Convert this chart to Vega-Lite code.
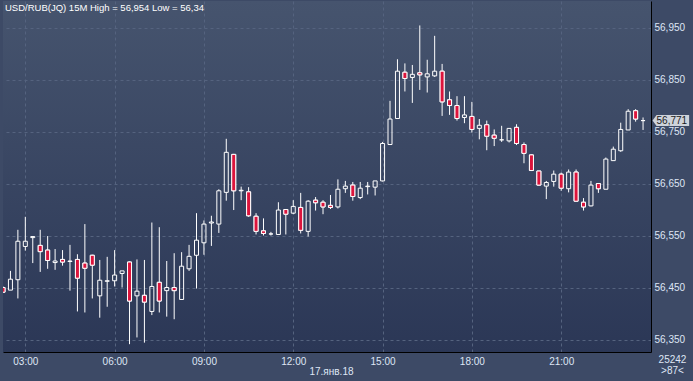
{
  "$schema": "https://vega.github.io/schema/vega-lite/v6.json",
  "width": 648,
  "height": 351,
  "autosize": {"type": "none"},
  "padding": {"left": 3, "top": 1, "right": 42, "bottom": 29},
  "background": "#3d4a66",
  "config": {
    "locale": {"number": {"decimal": ",", "thousands": " ", "grouping": [3], "currency": ["", ""]}},
    "view": {"stroke": null, "fill": {"gradient": "linear", "x1": 0, "y1": 0, "x2": 0, "y2": 1, "stops": [{"offset": 0, "color": "#46546e"}, {"offset": 1, "color": "#2b3756"}]}},
    "font": "Liberation Sans"
  },
  "data": {"values": [
    {"t": "2018-01-17T02:15:00Z", "o": 56.450, "h": 56.452, "l": 56.440, "c": 56.441},
    {"t": "2018-01-17T02:30:00Z", "o": 56.445, "h": 56.482, "l": 56.445, "c": 56.466},
    {"t": "2018-01-17T02:45:00Z", "o": 56.465, "h": 56.561, "l": 56.429, "c": 56.539},
    {"t": "2018-01-17T03:00:00Z", "o": 56.529, "h": 56.586, "l": 56.521, "c": 56.539},
    {"t": "2018-01-17T03:15:00Z", "o": 56.546, "h": 56.548, "l": 56.497, "c": 56.548},
    {"t": "2018-01-17T03:30:00Z", "o": 56.531, "h": 56.561, "l": 56.480, "c": 56.519},
    {"t": "2018-01-17T03:45:00Z", "o": 56.522, "h": 56.549, "l": 56.486, "c": 56.502},
    {"t": "2018-01-17T04:00:00Z", "o": 56.498, "h": 56.524, "l": 56.484, "c": 56.501},
    {"t": "2018-01-17T04:15:00Z", "o": 56.504, "h": 56.522, "l": 56.492, "c": 56.499},
    {"t": "2018-01-17T04:30:00Z", "o": 56.500, "h": 56.532, "l": 56.444, "c": 56.501},
    {"t": "2018-01-17T04:45:00Z", "o": 56.504, "h": 56.514, "l": 56.404, "c": 56.468},
    {"t": "2018-01-17T05:00:00Z", "o": 56.497, "h": 56.572, "l": 56.402, "c": 56.487},
    {"t": "2018-01-17T05:15:00Z", "o": 56.512, "h": 56.513, "l": 56.429, "c": 56.493},
    {"t": "2018-01-17T05:30:00Z", "o": 56.434, "h": 56.503, "l": 56.392, "c": 56.464},
    {"t": "2018-01-17T05:45:00Z", "o": 56.462, "h": 56.509, "l": 56.413, "c": 56.463},
    {"t": "2018-01-17T06:00:00Z", "o": 56.463, "h": 56.522, "l": 56.452, "c": 56.474},
    {"t": "2018-01-17T06:15:00Z", "o": 56.477, "h": 56.482, "l": 56.450, "c": 56.482},
    {"t": "2018-01-17T06:30:00Z", "o": 56.499, "h": 56.500, "l": 56.341, "c": 56.424},
    {"t": "2018-01-17T06:45:00Z", "o": 56.434, "h": 56.504, "l": 56.354, "c": 56.443},
    {"t": "2018-01-17T07:00:00Z", "o": 56.435, "h": 56.503, "l": 56.344, "c": 56.422},
    {"t": "2018-01-17T07:15:00Z", "o": 56.404, "h": 56.575, "l": 56.397, "c": 56.452},
    {"t": "2018-01-17T07:30:00Z", "o": 56.460, "h": 56.566, "l": 56.402, "c": 56.424},
    {"t": "2018-01-17T07:45:00Z", "o": 56.444, "h": 56.501, "l": 56.394, "c": 56.450},
    {"t": "2018-01-17T08:00:00Z", "o": 56.450, "h": 56.516, "l": 56.389, "c": 56.444},
    {"t": "2018-01-17T08:15:00Z", "o": 56.427, "h": 56.518, "l": 56.427, "c": 56.491},
    {"t": "2018-01-17T08:30:00Z", "o": 56.486, "h": 56.532, "l": 56.482, "c": 56.510},
    {"t": "2018-01-17T08:45:00Z", "o": 56.512, "h": 56.593, "l": 56.448, "c": 56.541},
    {"t": "2018-01-17T09:00:00Z", "o": 56.536, "h": 56.579, "l": 56.513, "c": 56.572},
    {"t": "2018-01-17T09:15:00Z", "o": 56.574, "h": 56.588, "l": 56.530, "c": 56.576},
    {"t": "2018-01-17T09:30:00Z", "o": 56.572, "h": 56.639, "l": 56.555, "c": 56.636},
    {"t": "2018-01-17T09:45:00Z", "o": 56.633, "h": 56.736, "l": 56.617, "c": 56.710},
    {"t": "2018-01-17T10:00:00Z", "o": 56.706, "h": 56.707, "l": 56.599, "c": 56.636},
    {"t": "2018-01-17T10:15:00Z", "o": 56.636, "h": 56.644, "l": 56.618, "c": 56.637},
    {"t": "2018-01-17T10:30:00Z", "o": 56.634, "h": 56.643, "l": 56.586, "c": 56.588},
    {"t": "2018-01-17T10:45:00Z", "o": 56.587, "h": 56.593, "l": 56.552, "c": 56.558},
    {"t": "2018-01-17T11:00:00Z", "o": 56.559, "h": 56.583, "l": 56.550, "c": 56.554},
    {"t": "2018-01-17T11:15:00Z", "o": 56.553, "h": 56.557, "l": 56.550, "c": 56.553},
    {"t": "2018-01-17T11:30:00Z", "o": 56.552, "h": 56.614, "l": 56.552, "c": 56.599},
    {"t": "2018-01-17T11:45:00Z", "o": 56.600, "h": 56.601, "l": 56.552, "c": 56.591},
    {"t": "2018-01-17T12:00:00Z", "o": 56.593, "h": 56.618, "l": 56.591, "c": 56.606},
    {"t": "2018-01-17T12:15:00Z", "o": 56.604, "h": 56.632, "l": 56.554, "c": 56.560},
    {"t": "2018-01-17T12:30:00Z", "o": 56.558, "h": 56.618, "l": 56.548, "c": 56.616},
    {"t": "2018-01-17T12:45:00Z", "o": 56.618, "h": 56.624, "l": 56.598, "c": 56.613},
    {"t": "2018-01-17T13:00:00Z", "o": 56.614, "h": 56.618, "l": 56.591, "c": 56.605},
    {"t": "2018-01-17T13:15:00Z", "o": 56.608, "h": 56.628, "l": 56.601, "c": 56.604},
    {"t": "2018-01-17T13:30:00Z", "o": 56.605, "h": 56.658, "l": 56.602, "c": 56.639},
    {"t": "2018-01-17T13:45:00Z", "o": 56.640, "h": 56.655, "l": 56.632, "c": 56.645},
    {"t": "2018-01-17T14:00:00Z", "o": 56.647, "h": 56.653, "l": 56.617, "c": 56.625},
    {"t": "2018-01-17T14:15:00Z", "o": 56.623, "h": 56.653, "l": 56.620, "c": 56.641},
    {"t": "2018-01-17T14:30:00Z", "o": 56.644, "h": 56.653, "l": 56.629, "c": 56.645},
    {"t": "2018-01-17T14:45:00Z", "o": 56.643, "h": 56.655, "l": 56.627, "c": 56.655},
    {"t": "2018-01-17T15:00:00Z", "o": 56.655, "h": 56.730, "l": 56.654, "c": 56.727},
    {"t": "2018-01-17T15:15:00Z", "o": 56.725, "h": 56.809, "l": 56.725, "c": 56.774},
    {"t": "2018-01-17T15:30:00Z", "o": 56.775, "h": 56.889, "l": 56.775, "c": 56.866},
    {"t": "2018-01-17T15:45:00Z", "o": 56.864, "h": 56.881, "l": 56.827, "c": 56.852},
    {"t": "2018-01-17T16:00:00Z", "o": 56.854, "h": 56.878, "l": 56.805, "c": 56.860},
    {"t": "2018-01-17T16:15:00Z", "o": 56.863, "h": 56.954, "l": 56.830, "c": 56.859},
    {"t": "2018-01-17T16:30:00Z", "o": 56.855, "h": 56.888, "l": 56.825, "c": 56.861},
    {"t": "2018-01-17T16:45:00Z", "o": 56.857, "h": 56.934, "l": 56.855, "c": 56.866},
    {"t": "2018-01-17T17:00:00Z", "o": 56.866, "h": 56.880, "l": 56.780, "c": 56.807},
    {"t": "2018-01-17T17:15:00Z", "o": 56.811, "h": 56.827, "l": 56.782, "c": 56.800},
    {"t": "2018-01-17T17:30:00Z", "o": 56.800, "h": 56.818, "l": 56.771, "c": 56.775},
    {"t": "2018-01-17T17:45:00Z", "o": 56.777, "h": 56.818, "l": 56.766, "c": 56.782},
    {"t": "2018-01-17T18:00:00Z", "o": 56.779, "h": 56.807, "l": 56.748, "c": 56.754},
    {"t": "2018-01-17T18:15:00Z", "o": 56.756, "h": 56.774, "l": 56.735, "c": 56.762},
    {"t": "2018-01-17T18:30:00Z", "o": 56.763, "h": 56.771, "l": 56.714, "c": 56.741},
    {"t": "2018-01-17T18:45:00Z", "o": 56.743, "h": 56.754, "l": 56.722, "c": 56.737},
    {"t": "2018-01-17T19:00:00Z", "o": 56.734, "h": 56.761, "l": 56.730, "c": 56.734},
    {"t": "2018-01-17T19:15:00Z", "o": 56.732, "h": 56.756, "l": 56.729, "c": 56.756},
    {"t": "2018-01-17T19:30:00Z", "o": 56.758, "h": 56.764, "l": 56.724, "c": 56.727},
    {"t": "2018-01-17T19:45:00Z", "o": 56.725, "h": 56.729, "l": 56.689, "c": 56.708},
    {"t": "2018-01-17T20:00:00Z", "o": 56.705, "h": 56.706, "l": 56.674, "c": 56.675},
    {"t": "2018-01-17T20:15:00Z", "o": 56.674, "h": 56.674, "l": 56.646, "c": 56.647},
    {"t": "2018-01-17T20:30:00Z", "o": 56.645, "h": 56.655, "l": 56.620, "c": 56.652},
    {"t": "2018-01-17T20:45:00Z", "o": 56.654, "h": 56.675, "l": 56.644, "c": 56.668},
    {"t": "2018-01-17T21:00:00Z", "o": 56.668, "h": 56.671, "l": 56.636, "c": 56.641},
    {"t": "2018-01-17T21:15:00Z", "o": 56.640, "h": 56.677, "l": 56.633, "c": 56.672},
    {"t": "2018-01-17T21:30:00Z", "o": 56.672, "h": 56.677, "l": 56.615, "c": 56.616},
    {"t": "2018-01-17T21:45:00Z", "o": 56.614, "h": 56.622, "l": 56.598, "c": 56.605},
    {"t": "2018-01-17T22:00:00Z", "o": 56.607, "h": 56.655, "l": 56.606, "c": 56.647},
    {"t": "2018-01-17T22:15:00Z", "o": 56.650, "h": 56.650, "l": 56.632, "c": 56.640},
    {"t": "2018-01-17T22:30:00Z", "o": 56.639, "h": 56.700, "l": 56.639, "c": 56.697},
    {"t": "2018-01-17T22:45:00Z", "o": 56.694, "h": 56.721, "l": 56.694, "c": 56.716},
    {"t": "2018-01-17T23:00:00Z", "o": 56.713, "h": 56.767, "l": 56.711, "c": 56.754},
    {"t": "2018-01-17T23:15:00Z", "o": 56.753, "h": 56.793, "l": 56.753, "c": 56.789},
    {"t": "2018-01-17T23:30:00Z", "o": 56.790, "h": 56.793, "l": 56.769, "c": 56.774},
    {"t": "2018-01-17T23:45:00Z", "o": 56.771, "h": 56.777, "l": 56.753, "c": 56.771}
  ]},
  "layer": [
    {
      "mark": {"type": "bar", "width": 4, "stroke": "#ffffff", "strokeWidth": 1, "clip": true, "fillOpacity": 0},
      "encoding": {
        "x": {"field": "t", "type": "temporal", "scale": {"type": "utc", "padding": 0, "domain": [{"year": 2018, "month": 1, "date": 17, "hours": 2, "minutes": 15, "utc": true}, {"year": 2018, "month": 1, "date": 18, "hours": 0, "minutes": 1, "utc": true}]},
          "axis": {
            "values": [
              {"year": 2018, "month": 1, "date": 17, "hours": 3, "utc": true},
              {"year": 2018, "month": 1, "date": 17, "hours": 6, "utc": true},
              {"year": 2018, "month": 1, "date": 17, "hours": 9, "utc": true},
              {"year": 2018, "month": 1, "date": 17, "hours": 12, "utc": true},
              {"year": 2018, "month": 1, "date": 17, "hours": 15, "utc": true},
              {"year": 2018, "month": 1, "date": 17, "hours": 18, "utc": true},
              {"year": 2018, "month": 1, "date": 17, "hours": 21, "utc": true}
            ],
            "format": "%H:%M", "ticks": false, "labelPadding": 4, "labelFontSize": 10, "labelColor": "#dfe6f5", "labelFlush": false, "labelOverlap": false,
            "domainColor": "#000000", "domainWidth": 1,
            "grid": true, "gridColor": "#55637f", "gridDash": [3, 3], "gridWidth": 1,
            "title": "17.янв.18", "titleX": 328, "titleY": 19, "titleAlign": "center", "titleBaseline": "middle", "titleFontSize": 10, "titleFontWeight": "normal", "titleColor": "#dfe6f5"
          }
        },
        "y": {"field": "o", "type": "quantitative", "scale": {"domain": [56.326, 57.001], "zero": false, "nice": false},
          "axis": {
            "orient": "right",
            "values": [56.35, 56.4, 56.45, 56.5, 56.55, 56.6, 56.65, 56.7, 56.75, 56.8, 56.85, 56.9, 56.95],
            "format": ".3f", "ticks": false, "labelPadding": 3, "labelFontSize": 10, "labelColor": "#dfe6f5",
            "domainColor": "#000000", "domainWidth": 1,
            "grid": true, "gridColor": "#55637f", "gridDash": [3, 3], "gridWidth": 1,
            "title": ["25242", ">87<"], "titleAngle": 0, "titleX": 21, "titleY": 353, "titleAlign": "center", "titleBaseline": "top", "titleLineHeight": 11, "titleFontSize": 10, "titleFontWeight": "normal", "titleColor": "#dfe6f5"
          }
        },
        "y2": {"field": "c"}
      }
    },
    {
      "transform": [{"filter": "datum.c >= datum.o"}],
      "mark": {"type": "rule", "color": "#ffffff", "strokeWidth": 1, "clip": true},
      "encoding": {
        "x": {"field": "t", "type": "temporal"},
        "y": {"field": "h", "type": "quantitative"},
        "y2": {"field": "c"}
      }
    },
    {
      "transform": [{"filter": "datum.c >= datum.o"}],
      "mark": {"type": "rule", "color": "#ffffff", "strokeWidth": 1, "clip": true},
      "encoding": {
        "x": {"field": "t", "type": "temporal"},
        "y": {"field": "o", "type": "quantitative"},
        "y2": {"field": "l"}
      }
    },
    {
      "transform": [{"filter": "datum.c < datum.o"}],
      "mark": {"type": "rule", "color": "#ffffff", "strokeWidth": 1, "clip": true},
      "encoding": {
        "x": {"field": "t", "type": "temporal"},
        "y": {"field": "h", "type": "quantitative"},
        "y2": {"field": "o"}
      }
    },
    {
      "transform": [{"filter": "datum.c < datum.o"}],
      "mark": {"type": "rule", "color": "#ffffff", "strokeWidth": 1, "clip": true},
      "encoding": {
        "x": {"field": "t", "type": "temporal"},
        "y": {"field": "c", "type": "quantitative"},
        "y2": {"field": "l"}
      }
    },
    {
      "transform": [{"filter": "datum.c < datum.o"}],
      "mark": {"type": "bar", "width": 4, "stroke": "#ffffff", "strokeWidth": 1, "clip": true, "color": "#dc143c", "fillOpacity": 1},
      "encoding": {
        "x": {"field": "t", "type": "temporal"},
        "y": {"field": "o", "type": "quantitative"},
        "y2": {"field": "c"}
      }
    },
    {
      "data": {"values": [{"p": 56.771}]},
      "mark": {"type": "point", "shape": "M-1,0L-0.78,-0.3L1,-0.3L1,0.3L-0.78,0.3Z", "filled": true, "color": "#cdd2da", "opacity": 1, "size": 1340},
      "encoding": {
        "x": {"datum": {"year": 2018, "month": 1, "date": 18, "hours": 0, "minutes": 41, "utc": true}, "type": "temporal"},
        "y": {"field": "p", "type": "quantitative"}
      }
    },
    {
      "data": {"values": [{"p": 56.771}]},
      "mark": {"type": "text", "fontSize": 10, "color": "#1a1a1a", "align": "center", "baseline": "middle", "dx": 1},
      "encoding": {
        "x": {"datum": {"year": 2018, "month": 1, "date": 18, "hours": 0, "minutes": 41, "utc": true}, "type": "temporal"},
        "y": {"field": "p", "type": "quantitative"},
        "text": {"field": "p", "type": "quantitative", "format": ".3f"}
      }
    },
    {
      "data": {"values": [{"s": "USD/RUB(JQ) 15M High = 56,954 Low = 56,34"}]},
      "mark": {"type": "text", "fontSize": 9.5, "color": "#ffffff", "align": "left", "baseline": "top", "dx": 2, "dy": 2},
      "encoding": {
        "x": {"datum": {"year": 2018, "month": 1, "date": 17, "hours": 2, "minutes": 15, "utc": true}, "type": "temporal"},
        "y": {"datum": 57.001, "type": "quantitative"},
        "text": {"field": "s", "type": "nominal"}
      }
    }
  ]
}
